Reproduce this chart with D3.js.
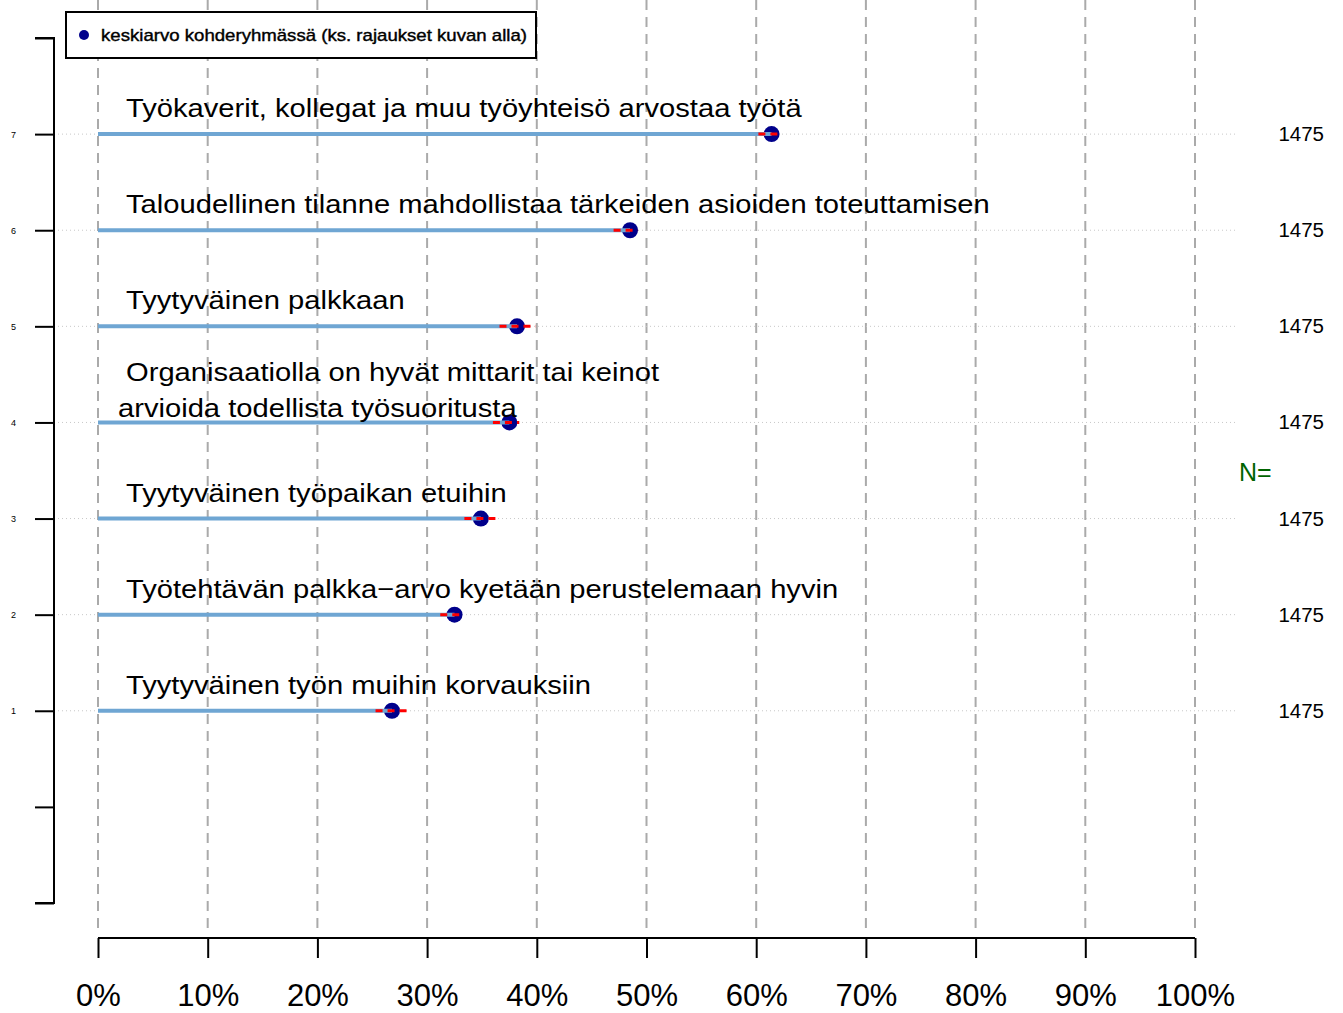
<!DOCTYPE html>
<html>
<head>
<meta charset="utf-8">
<script src="https://cdn.jsdelivr.net/npm/d3@7"></script>
<style>
  body { margin: 0; background: #fff; }
  text { font-family: "Liberation Sans", Arial, sans-serif; }
</style>
</head>
<body>
<svg id="chart" width="1343" height="1013"></svg>
<script>
// data, top row first
var rows = [7, 6, 5, 4, 3, 2, 1];
var labels = [
  "Työkaverit, kollegat ja muu työyhteisö arvostaa työtä",
  "Taloudellinen tilanne mahdollistaa tärkeiden asioiden toteuttamisen",
  "Tyytyväinen palkkaan",
  "Organisaatiolla on hyvät mittarit tai keinot\n arvioida todellista työsuoritusta",
  "Tyytyväinen työpaikan etuihin",
  "Työtehtävän palkka\u2212arvo kyetään perustelemaan hyvin",
  "Tyytyväinen työn muihin korvauksiin"
];
var means = [61.4, 48.5, 38.2, 37.5, 34.9, 32.5, 26.8];
var lower = [60.2, 47.0, 36.6, 36.0, 33.4, 31.2, 25.3];
var upper = [62.3, 49.2, 39.9, 38.4, 36.5, 33.2, 28.4];
var counts = [1475, 1475, 1475, 1475, 1475, 1475, 1475];
var xTicks = [0, 10, 20, 30, 40, 50, 60, 70, 80, 90, 100];
var yTicks = [-1, 0, 1, 2, 3, 4, 5, 6, 7, 8];
var legendText = "keskiarvo kohderyhmässä (ks. rajaukset kuvan alla)";

var svg = d3.select("#chart");
var x = d3.scaleLinear().domain([0, 100]).range([98, 1195]);
var y = d3.scaleLinear().domain([-1, 8]).range([903, 38]);

var data = rows.map(function(r, i){
  return { row: r, label: labels[i], mean: means[i], lo: lower[i], hi: upper[i], n: counts[i] };
});

// vertical dashed grid
svg.append("g").selectAll("line")
  .data(xTicks).enter().append("line")
  .attr("x1", function(d){ return x(d); })
  .attr("x2", function(d){ return x(d); })
  .attr("y1", 0).attr("y2", 930)
  .attr("stroke", "#aaaaaa")
  .attr("stroke-width", 2)
  .attr("stroke-dasharray", "10,7");

// dotted row lines
svg.append("g").selectAll("line")
  .data(data).enter().append("line")
  .attr("x1", 58).attr("x2", 1238)
  .attr("y1", function(d){ return y(d.row); })
  .attr("y2", function(d){ return y(d.row); })
  .attr("stroke", "#c8c8c8")
  .attr("stroke-width", 1)
  .attr("stroke-dasharray", "1,3");

// left axis
var leftAxis = d3.axisLeft(y).tickValues(yTicks).tickSize(19)
  .tickFormat(function(d){ return (d >= 1 && d <= 7) ? d : ""; });
var gl = svg.append("g").attr("transform", "translate(54,0)").call(leftAxis);
gl.select(".domain").attr("stroke", "#000").attr("stroke-width", 2).attr("d", "M-19,38H0V903H-19");
gl.selectAll(".tick line").attr("stroke", "#000").attr("stroke-width", 2);
gl.selectAll(".tick text").attr("x", -38).attr("font-size", 9).attr("fill", "#000")
  .attr("font-family", "Liberation Sans, Arial, sans-serif");

// bottom axis
var bottomAxis = d3.axisBottom(x).tickValues(xTicks).tickSize(20)
  .tickFormat(function(d){ return d + "%"; });
var gb = svg.append("g").attr("transform", "translate(0,938)").call(bottomAxis);
gb.select(".domain").attr("stroke", "#000").attr("stroke-width", 2).attr("d", "M98,0H1195");
gb.selectAll(".tick line").attr("stroke", "#000").attr("stroke-width", 2).attr("y1", 0).attr("y2", 20);
gb.selectAll(".tick text").attr("y", 46).attr("dy", "0.71em").attr("font-size", 31).attr("fill", "#000")
  .attr("font-family", "Liberation Sans, Arial, sans-serif");

// points
svg.append("g").selectAll("circle")
  .data(data).enter().append("circle")
  .attr("cx", function(d){ return x(d.mean); })
  .attr("cy", function(d){ return y(d.row); })
  .attr("r", 8)
  .attr("fill", "#00008b");

// bars
svg.append("g").selectAll("line")
  .data(data).enter().append("line")
  .attr("x1", x(0))
  .attr("x2", function(d){ return x(d.mean); })
  .attr("y1", function(d){ return y(d.row); })
  .attr("y2", function(d){ return y(d.row); })
  .attr("stroke", "#6fa6d3")
  .attr("stroke-width", 4);

// confidence intervals
svg.append("g").selectAll("line")
  .data(data).enter().append("line")
  .attr("x1", function(d){ return x(d.lo); })
  .attr("x2", function(d){ return x(d.hi); })
  .attr("y1", function(d){ return y(d.row); })
  .attr("y2", function(d){ return y(d.row); })
  .attr("stroke", "#ff0000")
  .attr("stroke-width", 3)
  .attr("stroke-dasharray", "7,5");

// row labels (the original font runs wider than Arial, stretch ~10%)
var stretch = 1.1;
var lab = svg.append("g").selectAll("text")
  .data(data).enter().append("text")
  .attr("font-size", 26.5)
  .attr("fill", "#000");
lab.each(function(d){
  var parts = d.label.split("\n");
  var t = d3.select(this);
  var spans = [];
  if (parts.length === 1) {
    spans.push(t.append("tspan").attr("x", 126).attr("y", y(d.row) - 17).text(parts[0]));
  } else {
    spans.push(t.append("tspan").attr("x", 126).attr("y", y(d.row) - 41).text(parts[0]));
    spans.push(t.append("tspan").attr("x", 118).attr("y", y(d.row) - 5).text(parts[1].trim()));
  }
  spans.forEach(function(s){
    var w = s.node().getComputedTextLength();
    s.attr("textLength", w * stretch).attr("lengthAdjust", "spacingAndGlyphs");
  });
});

// counts
svg.append("g").selectAll("text")
  .data(data).enter().append("text")
  .attr("x", 1324)
  .attr("y", function(d){ return y(d.row) + 7; })
  .attr("text-anchor", "end")
  .attr("font-size", 20.5)
  .attr("fill", "#000")
  .text(function(d){ return d.n; });

svg.append("text")
  .attr("x", 1239).attr("y", 481)
  .attr("font-size", 25)
  .attr("fill", "#006400")
  .text("N=");

// legend
var lg = svg.append("g");
lg.append("rect")
  .attr("x", 66).attr("y", 12).attr("width", 470).attr("height", 46)
  .attr("fill", "#fff").attr("stroke", "#000").attr("stroke-width", 2);
lg.append("circle").attr("cx", 84).attr("cy", 35).attr("r", 5).attr("fill", "#00008b");
lg.append("text")
  .attr("x", 101).attr("y", 41)
  .attr("font-size", 17)
  .attr("textLength", 426)
  .attr("lengthAdjust", "spacingAndGlyphs")
  .attr("fill", "#000")
  .attr("stroke", "#000")
  .attr("stroke-width", 0.4)
  .text(legendText);
</script>
</body>
</html>
